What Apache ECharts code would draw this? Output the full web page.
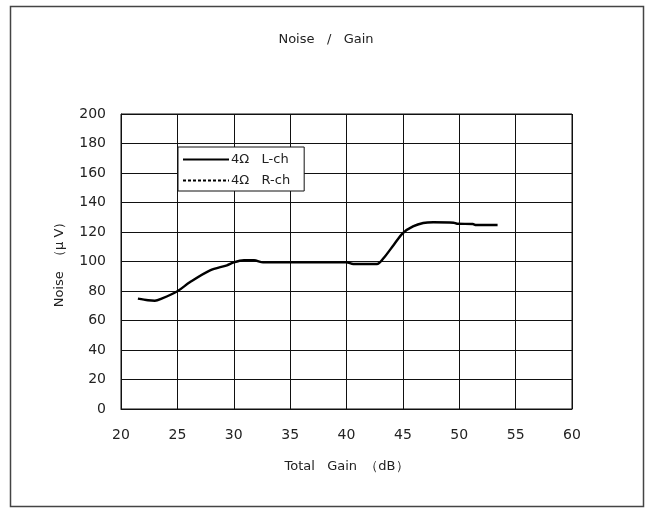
<!DOCTYPE html>
<html>
<head>
<meta charset="utf-8">
<script src="https://cdn.jsdelivr.net/npm/echarts@6/dist/echarts.min.js"></script>
<style>
  html, body { margin: 0; padding: 0; background: #fff; }
  #chart { width: 652px; height: 508px; }
</style>
</head>
<body>
<div id="chart"></div>
<script>
// 4Ω L-ch curve: [total gain dB, noise µV]
var gainL = [21.5, 22.4, 23.0, 23.6, 25.0, 26.1, 27.9, 29.4, 30.0, 30.9, 31.8, 32.6, 40.0, 40.6, 42.7, 43.3, 44.2, 45.0, 45.9, 46.8, 47.7, 49.5, 49.8, 51.2, 51.5, 53.4];
var noiseL = [74.8, 73.7, 73.4, 74.8, 79.8, 85.9, 94.0, 97.4, 99.4, 100.8, 100.8, 99.4, 99.4, 98.3, 98.3, 102.4, 111.4, 119.3, 123.8, 126.1, 126.6, 126.3, 125.6, 125.4, 124.7, 124.7];
// R-ch: no data drawn in the reference
var gainR = [];
var noiseR = [];
var seriesNames = ["4Ω   L-ch", "4Ω   R-ch"];

var font = "'DejaVu Sans', sans-serif";
var txt = "#222";
var chart = echarts.init(document.getElementById("chart"));

function pairs(xs, ys) {
  return xs.map(function (x, i) { return [x, ys[i]]; });
}

var option = {
  backgroundColor: "#fff",
  animation: false,
  title: {
    text: "Noise   /   Gain",
    left: "center",
    top: 28,
    textStyle: { fontFamily: font, fontSize: 13, fontWeight: "normal", color: txt }
  },
  graphic: [{
    type: "rect",
    shape: { x: 10.5, y: 6.5, width: 633, height: 500 },
    style: { fill: null, stroke: "#444", lineWidth: 1.5 },
    silent: true
  }],
  grid: { left: 121, right: 80, top: 114, bottom: 99, show: true, borderColor: "#111", borderWidth: 1 },
  legend: {
    orient: "vertical",
    left: 178,
    top: 147,
    padding: [6, 14, 4, 4],
    itemGap: 8,
    itemWidth: 46,
    itemHeight: 14,
    backgroundColor: "#fff",
    borderColor: "#111",
    borderWidth: 1,
    borderRadius: 0,
    itemStyle: { opacity: 0 },
    data: seriesNames,
    textStyle: { fontFamily: font, fontSize: 13, color: txt, padding: [0, 0, 0, -3] }
  },
  xAxis: {
    type: "value",
    min: 20,
    max: 60,
    interval: 5,
    name: "Total   Gain  （dB）",
    nameLocation: "middle",
    nameGap: 51,
    nameTextStyle: { fontFamily: font, fontSize: 13, color: txt },
    axisLine: { lineStyle: { color: "#111" } },
    axisTick: { show: false },
    axisLabel: { margin: 19, fontFamily: font, fontSize: 14, color: txt },
    splitLine: { show: true, lineStyle: { color: "#111", width: 1 } }
  },
  yAxis: {
    type: "value",
    min: 0,
    max: 200,
    interval: 20,
    name: "Noise  （μ V）",
    nameLocation: "middle",
    nameGap: 55,
    nameTextStyle: { fontFamily: font, fontSize: 13, color: txt },
    axisLine: { show: true, lineStyle: { color: "#111" } },
    axisTick: { show: false },
    axisLabel: { margin: 15, fontFamily: font, fontSize: 14, color: txt },
    splitLine: { show: true, lineStyle: { color: "#111", width: 1 } }
  },
  series: [
    {
      name: seriesNames[0],
      type: "line",
      symbol: "none",
      smooth: 0.3,
      data: pairs(gainL, noiseL),
      lineStyle: { color: "#000", width: 2.4 },
      itemStyle: { color: "#000" }
    },
    {
      name: seriesNames[1],
      type: "line",
      symbol: "none",
      data: pairs(gainR, noiseR),
      lineStyle: { color: "#000", width: 1, type: [3, 2] },
      itemStyle: { color: "#000" }
    }
  ]
};
chart.setOption(option);
</script>
</body>
</html>
